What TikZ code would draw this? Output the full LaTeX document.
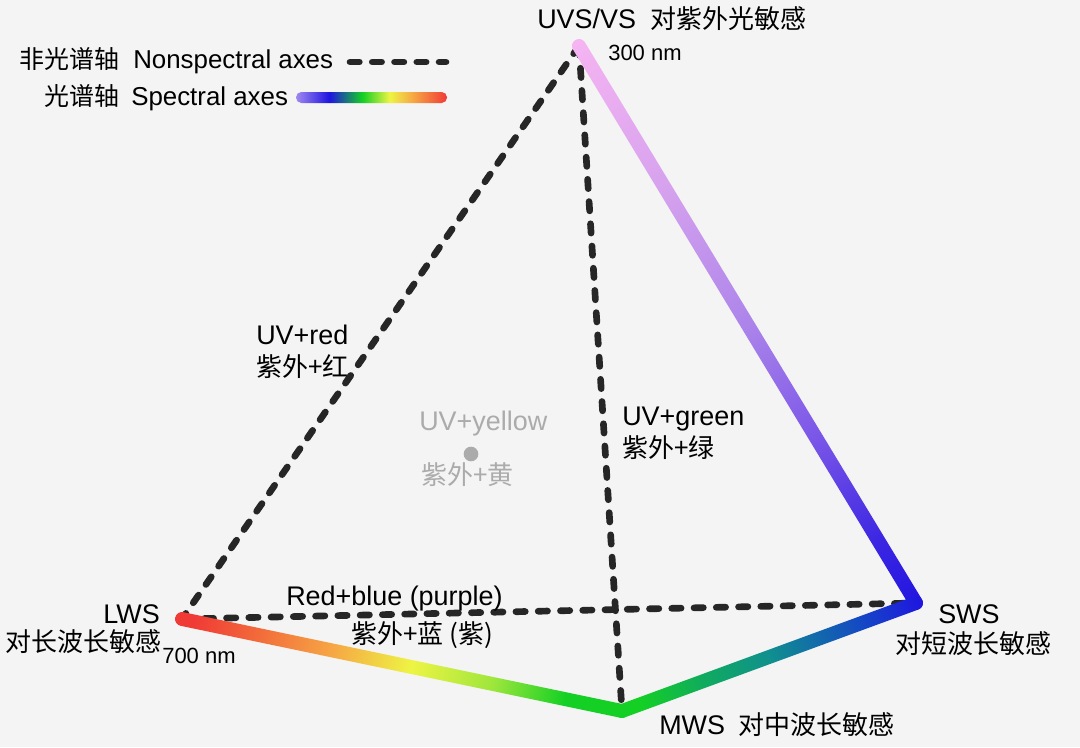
\documentclass[tikz,border=0pt]{standalone}
\usepackage{fontspec}
\setmainfont{Liberation Sans}
\newfontfamily\cjk{Noto Sans CJK SC}[Scale=0.965]
\definecolor{bg}{HTML}{F4F4F4}
\definecolor{dashgray}{HTML}{262626}
\definecolor{faint}{HTML}{ABABAB}
\definecolor{uvpink}{HTML}{F6B4F2}
\definecolor{uvlav}{HTML}{D6A2EE}
\definecolor{uvviolet}{HTML}{AC84EA}
\definecolor{uvpurple}{HTML}{7A56E8}
\definecolor{uvblue}{HTML}{3C26E2}
\definecolor{swblue}{HTML}{2014E0}
\definecolor{swmid}{HTML}{1448C4}
\definecolor{swteal}{HTML}{10908E}
\definecolor{swtgreen}{HTML}{10AC5C}
\definecolor{mwgreen}{HTML}{14D024}
\definecolor{lwred}{HTML}{F03A36}
\definecolor{lwredor}{HTML}{F26A3A}
\definecolor{lworange}{HTML}{F6A444}
\definecolor{lwyellow}{HTML}{EEF444}
\definecolor{lwygreen}{HTML}{9EE63C}
\definecolor{legviolet}{HTML}{A088F0}
% spectral shadings, middle 50bp is fitted to the path
\pgfdeclarehorizontalshading{uvtosws}{100bp}{color(0bp)=(uvpink); color(25bp)=(uvpink); color(38bp)=(uvlav); color(50bp)=(uvviolet); color(60bp)=(uvpurple); color(69bp)=(uvblue); color(75bp)=(swblue); color(100bp)=(swblue)}
\pgfdeclarehorizontalshading{swstomws}{100bp}{color(0bp)=(swblue); color(25bp)=(swblue); color(35bp)=(swmid); color(50bp)=(swteal); color(61bp)=(swtgreen); color(71bp)=(mwgreen); color(100bp)=(mwgreen)}
\pgfdeclarehorizontalshading{lwstomws}{100bp}{color(0bp)=(lwred); color(27bp)=(lwred); color(34bp)=(lwredor); color(42bp)=(lworange); color(51bp)=(lwyellow); color(60bp)=(lwygreen); color(68bp)=(mwgreen); color(100bp)=(mwgreen)}
\pgfdeclarehorizontalshading{legbar}{100bp}{color(0bp)=(legviolet); color(25bp)=(legviolet); color(36bp)=(swblue); color(47bp)=(mwgreen); color(56bp)=(lwyellow); color(64bp)=(lworange); color(75bp)=(lwred); color(100bp)=(lwred)}
% thick shaded segment from #1 to #2
\newcommand\specseg[3]{%
  \pgfpointdiff{\pgfpointanchor{#1}{center}}{\pgfpointanchor{#2}{center}}%
  \pgfgetlastxy{\segdx}{\segdy}%
  \pgfmathsetmacro\segang{atan2(\segdy,\segdx)}%
  \pgfmathsetmacro\seglen{veclen(\segdx,\segdy)}%
  \begin{scope}[transform canvas={shift={(#1)},rotate=\segang}]
    \shade[shading=#3, rounded corners=5.1pt] (-5.2pt,-5.2pt) rectangle (\seglen pt+5.2pt,5.2pt);
  \end{scope}}
\begin{document}
\begin{tikzpicture}[x=0.75pt,y=-0.75pt,
  nonspec/.style={draw=dashgray, line width=5pt, line cap=round, dash pattern=on 7pt off 9.7pt},
  lbl/.style={font=\fontsize{20.2pt}{24pt}\selectfont, inner sep=0pt, anchor=base west},
  leg/.style={font=\fontsize{19.4pt}{23pt}\selectfont, inner sep=0pt, anchor=base west},
  nmlbl/.style={font=\fontsize{16.5pt}{20pt}\selectfont, inner sep=0pt, anchor=base west}]
\fill[bg] (0,0) rectangle (1080,747);
\useasboundingbox (0,0) rectangle (1080,747);
% vertices
\coordinate (UVS) at (579,46);
\coordinate (LWS) at (182,619);
\coordinate (SWS) at (916,603);
\coordinate (MWS) at (622,711);
% legend
\node[leg, anchor=base east] (nonspecCn) at (120,68) {\cjk 非光谱轴};
\node[leg] (nonspecEn) at (133,68) {Nonspectral axes};
\node[leg, anchor=base east] (specCn) at (120,105) {\cjk 光谱轴};
\node[leg] (specEn) at (131,105) {Spectral axes};
\coordinate (legA) at (350,62);
\coordinate (legB) at (446,62);
\draw[nonspec] (legA) -- (legB);
\shade[shading=legbar, rounded corners=4pt] (296,92) rectangle (447,103);
% nonspectral axes
\draw[nonspec] (UVS) -- (LWS);
\draw[nonspec] (UVS) -- (MWS);
\draw[nonspec] (LWS) -- (SWS);
% spectral axes
\specseg{UVS}{SWS}{uvtosws}
\specseg{SWS}{MWS}{swstomws}
\specseg{LWS}{MWS}{lwstomws}
% labels
\node[lbl] (uvsLbl) at (537,28) {UVS/VS\hspace{0.55em}\cjk 对紫外光敏感};
\node[nmlbl] (nm300) at (608,60) {300 nm};
\node[lbl, anchor=base east] (lwsLbl) at (160,623) {LWS};
\node[lbl, anchor=base east] (lwsCn) at (162,651) {\cjk 对长波长敏感};
\node[nmlbl] (nm700) at (162,663) {700 nm};
\node[lbl] (swsLbl) at (938,623) {SWS};
\node[lbl] (swsCn) at (895,653) {\cjk 对短波长敏感};
\node[lbl] (mwsLbl) at (659,734) {MWS\hspace{0.5em}\cjk 对中波长敏感};
\node[lbl] (uvred) at (256,344) {UV+red};
\node[lbl] (uvredCn) at (256,376) {\cjk 紫外+红};
\node[lbl] (uvgreen) at (622,425) {UV+green};
\node[lbl] (uvgreenCn) at (622,457) {\cjk 紫外+绿};
\node[lbl] (redblue) at (286,605) {Red+blue (purple)};
\node[lbl] (redblueCn) at (351,643) {\cjk 紫外+蓝 (紫)};
\node[lbl, text=faint] (uvyellow) at (419,430) {UV+yellow};
\node[circle, fill=faint, inner sep=0pt, minimum size=11pt] (uvyDot) at (471,454) {};
\node[lbl, text=faint] (uvyellowCn) at (421,484) {\cjk 紫外+黄};
\end{tikzpicture}
\end{document}
